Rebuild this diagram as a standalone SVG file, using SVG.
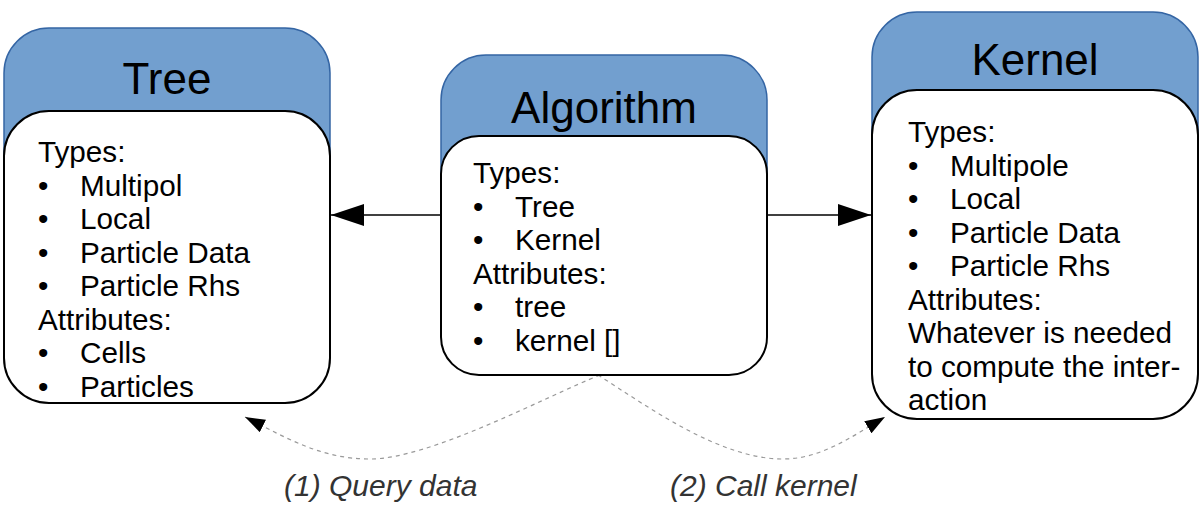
<svg xmlns="http://www.w3.org/2000/svg" width="1200" height="529" viewBox="0 0 1200 529">
  <defs>
    <style>
      .hdr { fill: #729fcf; stroke: #3465a4; stroke-width: 1.5; }
      .body { fill: #ffffff; stroke: #000000; stroke-width: 2; }
      .title { font-family: "Liberation Sans", Arial, sans-serif; font-size: 44px; fill: #000; text-anchor: middle; }
      .txt { font-family: "Liberation Sans", Arial, sans-serif; font-size: 29.7px; fill: #000; }
      .lbl { font-family: "Liberation Sans", Arial, sans-serif; font-size: 30px; font-style: italic; fill: #333; }
      .solid { stroke: #000; stroke-width: 1.5; fill: none; }
      .dash { stroke: #999; stroke-width: 1.2; fill: none; stroke-dasharray: 4 4; }
    </style>
    <marker id="solidArrow" viewBox="0 0 33 22" refX="33" refY="11" markerWidth="33" markerHeight="22" markerUnits="userSpaceOnUse" orient="auto">
      <path d="M0,0 L33,11 L0,22 Z" fill="#000"/>
    </marker>
    <marker id="dashArrow" viewBox="0 0 20 14" refX="20" refY="7" markerWidth="20" markerHeight="14" markerUnits="userSpaceOnUse" orient="auto">
      <path d="M0,0 L20,7 L0,14 Z" fill="#000"/>
    </marker>
  </defs>

  <g id="connectors">
    <line class="solid" x1="441" y1="215" x2="331" y2="215" marker-end="url(#solidArrow)"/>
    <line class="solid" x1="767" y1="215" x2="871" y2="215" marker-end="url(#solidArrow)"/>
    <path class="dash" d="M600,375 C545,397 430,459 370,459 C320,459 285,437 245,417" marker-end="url(#dashArrow)"/>
    <path class="dash" d="M598,375 C650,408 720,459 783,459 C820,459 850,438 885,417" marker-end="url(#dashArrow)"/>
    <text class="lbl" x="284" y="496">(1) Query data</text>
    <text class="lbl" x="670" y="496">(2) Call kernel</text>
  </g>

  <g id="tree">
    <path class="hdr" d="M4,165 V73 A45,45 0 0 1 49,28 H285 A45,45 0 0 1 330,73 V165 Z"/>
    <rect class="body" x="4" y="111" width="326" height="292" rx="45" ry="45"/>
    <text class="title" x="167" y="94">Tree</text>
    <text class="txt" x="38" y="162">Types:</text>
    <text class="txt" x="38" y="195.5">•</text><text class="txt" x="80" y="195.5">Multipol</text>
    <text class="txt" x="38" y="229">•</text><text class="txt" x="80" y="229">Local</text>
    <text class="txt" x="38" y="262.5">•</text><text class="txt" x="80" y="262.5">Particle Data</text>
    <text class="txt" x="38" y="296">•</text><text class="txt" x="80" y="296">Particle Rhs</text>
    <text class="txt" x="38" y="329.5">Attributes:</text>
    <text class="txt" x="38" y="363">•</text><text class="txt" x="80" y="363">Cells</text>
    <text class="txt" x="38" y="396.5">•</text><text class="txt" x="80" y="396.5">Particles</text>
  </g>

  <g id="algorithm">
    <path class="hdr" d="M441,180 V100 A45,45 0 0 1 486,55 H722 A45,45 0 0 1 767,100 V180 Z"/>
    <rect class="body" x="441" y="136" width="326" height="239" rx="38" ry="38"/>
    <text class="title" x="604" y="123">Algorithm</text>
    <text class="txt" x="473" y="183">Types:</text>
    <text class="txt" x="473" y="216.5">•</text><text class="txt" x="515" y="216.5">Tree</text>
    <text class="txt" x="473" y="250">•</text><text class="txt" x="515" y="250">Kernel</text>
    <text class="txt" x="473" y="283.5">Attributes:</text>
    <text class="txt" x="473" y="317">•</text><text class="txt" x="515" y="317">tree</text>
    <text class="txt" x="473" y="350.5">•</text><text class="txt" x="515" y="350.5">kernel []</text>
  </g>

  <g id="kernel">
    <path class="hdr" d="M872,145 V57 A45,45 0 0 1 917,12 H1153 A45,45 0 0 1 1198,57 V145 Z"/>
    <rect class="body" x="872" y="90" width="326" height="329" rx="45" ry="45"/>
    <text class="title" x="1035" y="75">Kernel</text>
    <text class="txt" x="908" y="142">Types:</text>
    <text class="txt" x="908" y="175.5">•</text><text class="txt" x="950" y="175.5">Multipole</text>
    <text class="txt" x="908" y="209">•</text><text class="txt" x="950" y="209">Local</text>
    <text class="txt" x="908" y="242.5">•</text><text class="txt" x="950" y="242.5">Particle Data</text>
    <text class="txt" x="908" y="276">•</text><text class="txt" x="950" y="276">Particle Rhs</text>
    <text class="txt" x="908" y="309.5">Attributes:</text>
    <text class="txt" x="908" y="343">Whatever is needed</text>
    <text class="txt" x="908" y="376.5">to compute the inter-</text>
    <text class="txt" x="908" y="410">action</text>
  </g>
</svg>
